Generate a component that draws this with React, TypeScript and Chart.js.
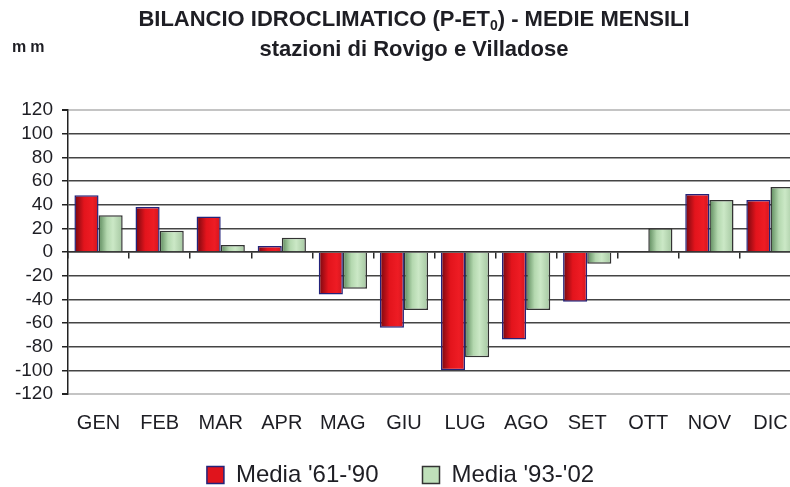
import React, { useEffect, useRef } from "react";
import { Chart, registerables } from "chart.js";

Chart.register(...registerables);

const MONTHS = ["GEN", "FEB", "MAR", "APR", "MAG", "GIU", "LUG", "AGO", "SET", "OTT", "NOV", "DIC"];
const MEDIA_61_90 = [48, 38, 30, 5, -36, -64, -100, -74, -42, 0, 49, 44];
const MEDIA_93_02 = [31, 18, 6, 12, -31, -49, -89, -49, -10, 20, 44, 55];
const SERIES_NAMES = ["Media '61-'90", "Media '93-'02"];
const Y_MIN = -120;
const Y_MAX = 120;
const Y_STEP = 20;

const TITLE_A = "BILANCIO IDROCLIMATICO (P-ET";
const TITLE_SUB = "0";
const TITLE_B = ") - MEDIE MENSILI";
const SUBTITLE = "stazioni di Rovigo e Villadose";
const UNIT = "mm";

const CAT_PCT = 0.79;
const FONT = '"Liberation Sans", Arial, sans-serif';
const TEXT = "#1e1e24";

const RED_STOPS: [number, string][] = [
  [0, "#730810"],
  [0.4, "#e3141c"],
  [0.75, "#ee1c24"],
  [1, "#d0161e"],
];
const GREEN_STOPS: [number, string][] = [
  [0, "#5a885a"],
  [0.35, "#b4d8af"],
  [0.6, "#cbe8c6"],
  [1, "#a4c6a0"],
];

function gradientFor(stops: [number, string][], dsIndex: number) {
  return (c: any) => {
    const chart = c.chart;
    const xs = chart.scales && chart.scales.x;
    if (c.type !== "data" || !xs || !chart.chartArea) return stops[2][1];
    const center = xs.getPixelForValue(c.dataIndex);
    const cat = xs.width / MONTHS.length;
    const bw = (cat * CAT_PCT) / 2;
    const left = dsIndex === 0 ? center - bw : center;
    const g = chart.ctx.createLinearGradient(left, 0, left + bw, 0);
    stops.forEach(([o, col]) => g.addColorStop(o, col));
    return g;
  };
}

const labelRoomPlugin = {
  id: "labelRoom",
  afterLayout(chart: any) {
    const s = chart.scales.x;
    if (s) s.bottom = s.top + 50;
  },
};

const titlePlugin = {
  id: "titles",
  afterDraw(chart: any) {
    const ctx = chart.ctx;
    ctx.save();
    ctx.fillStyle = TEXT;
    ctx.textBaseline = "middle";
    const cx = 414;
    const big = `bold 22px ${FONT}`;
    const small = `bold 14px ${FONT}`;
    ctx.font = big;
    const wA = ctx.measureText(TITLE_A).width;
    const wB = ctx.measureText(TITLE_B).width;
    ctx.font = small;
    const wS = ctx.measureText(TITLE_SUB).width;
    const total = wA + wS + wB;
    let x = cx - total / 2;
    ctx.textAlign = "left";
    ctx.font = big;
    ctx.fillText(TITLE_A, x, 20);
    x += wA;
    ctx.font = small;
    ctx.fillText(TITLE_SUB, x, 26);
    x += wS;
    ctx.font = big;
    ctx.fillText(TITLE_B, x, 20);
    ctx.textAlign = "center";
    ctx.fillText(SUBTITLE, cx, 50);
    ctx.textAlign = "left";
    ctx.font = `bold 16px ${FONT}`;
    try {
      (ctx as any).letterSpacing = "4px";
    } catch (e) {}
    ctx.fillText(UNIT, 12, 48);
    ctx.restore();
  },
};

export default function App() {
  const ref = useRef<HTMLCanvasElement | null>(null);

  useEffect(() => {
    if (!ref.current) return;
    const chart = new Chart(ref.current, {
      type: "bar",
      data: {
        labels: MONTHS,
        datasets: [
          {
            label: SERIES_NAMES[0],
            data: MEDIA_61_90,
            backgroundColor: gradientFor(RED_STOPS, 0) as any,
            borderColor: "#23237a",
            borderWidth: 1.5,
            categoryPercentage: CAT_PCT,
            barPercentage: 1,
          },
          {
            label: SERIES_NAMES[1],
            data: MEDIA_93_02,
            backgroundColor: gradientFor(GREEN_STOPS, 1) as any,
            borderColor: "#333333",
            borderWidth: 1.5,
            categoryPercentage: CAT_PCT,
            barPercentage: 1,
          },
        ],
      },
      options: {
        responsive: false,
        animation: false,
        layout: { padding: { left: 0, right: 9, top: 110, bottom: -10 } },
        plugins: {
          title: { display: false },
          tooltip: { enabled: false },
          legend: {
            display: true,
            position: "bottom",
            labels: {
              boxWidth: 17,
              boxHeight: 17,
              padding: 44,
              color: TEXT,
              font: { size: 24, family: FONT },
              generateLabels: () => [
                { text: SERIES_NAMES[0], fillStyle: "#e0141c", strokeStyle: "#23237a", lineWidth: 1.5, datasetIndex: 0, fontColor: TEXT },
                { text: SERIES_NAMES[1], fillStyle: "#bfe0ba", strokeStyle: "#333333", lineWidth: 1.5, datasetIndex: 1, fontColor: TEXT },
              ] as any,
            },
          },
        },
        scales: {
          x: {
            type: "category",
            position: "bottom",
            grid: { display: false },
            border: { display: false },
            afterFit: (s: any) => {
              s.height = 25;
            },
            ticks: { color: TEXT, font: { size: 20, family: FONT }, padding: 9, maxRotation: 0, autoSkip: false },
          },
          x2: {
            type: "category",
            axis: "x",
            position: { y: 0 } as any,
            offset: true,
            grid: { offset: true, drawOnChartArea: false, drawTicks: true, tickLength: 6, color: "#2a2a2a", lineWidth: 1.5 },
            border: { display: true, color: "#333333", width: 1.5 },
            ticks: { display: false },
          },
          y: {
            type: "linear",
            min: Y_MIN,
            max: Y_MAX,
            afterFit: (s: any) => {
              s.width = 68;
            },
            ticks: { stepSize: Y_STEP, autoSkip: false, color: TEXT, font: { size: 19, family: FONT }, padding: 9 },
            grid: {
              color: (c: any) => (c.tick && Math.abs(c.tick.value) === 120 ? "#c4c4c4" : "#444444"),
              lineWidth: (c: any) => (c.tick && Math.abs(c.tick.value) === 120 ? 2 : 1.5),
              tickColor: "#222222",
              tickLength: 6,
              drawTicks: true,
            },
            border: { display: true, color: "#222222", width: 1.5 },
          },
        },
      } as any,
      plugins: [labelRoomPlugin, titlePlugin],
    });
    return () => chart.destroy();
  }, []);

  return (
    <div style={{ position: "fixed", left: 0, top: 0, width: 790, height: 487, overflow: "hidden", background: "#fff" }}>
      <canvas ref={ref} width={810} height={487} style={{ display: "block", width: 810, height: 487 }} />
    </div>
  );
}
